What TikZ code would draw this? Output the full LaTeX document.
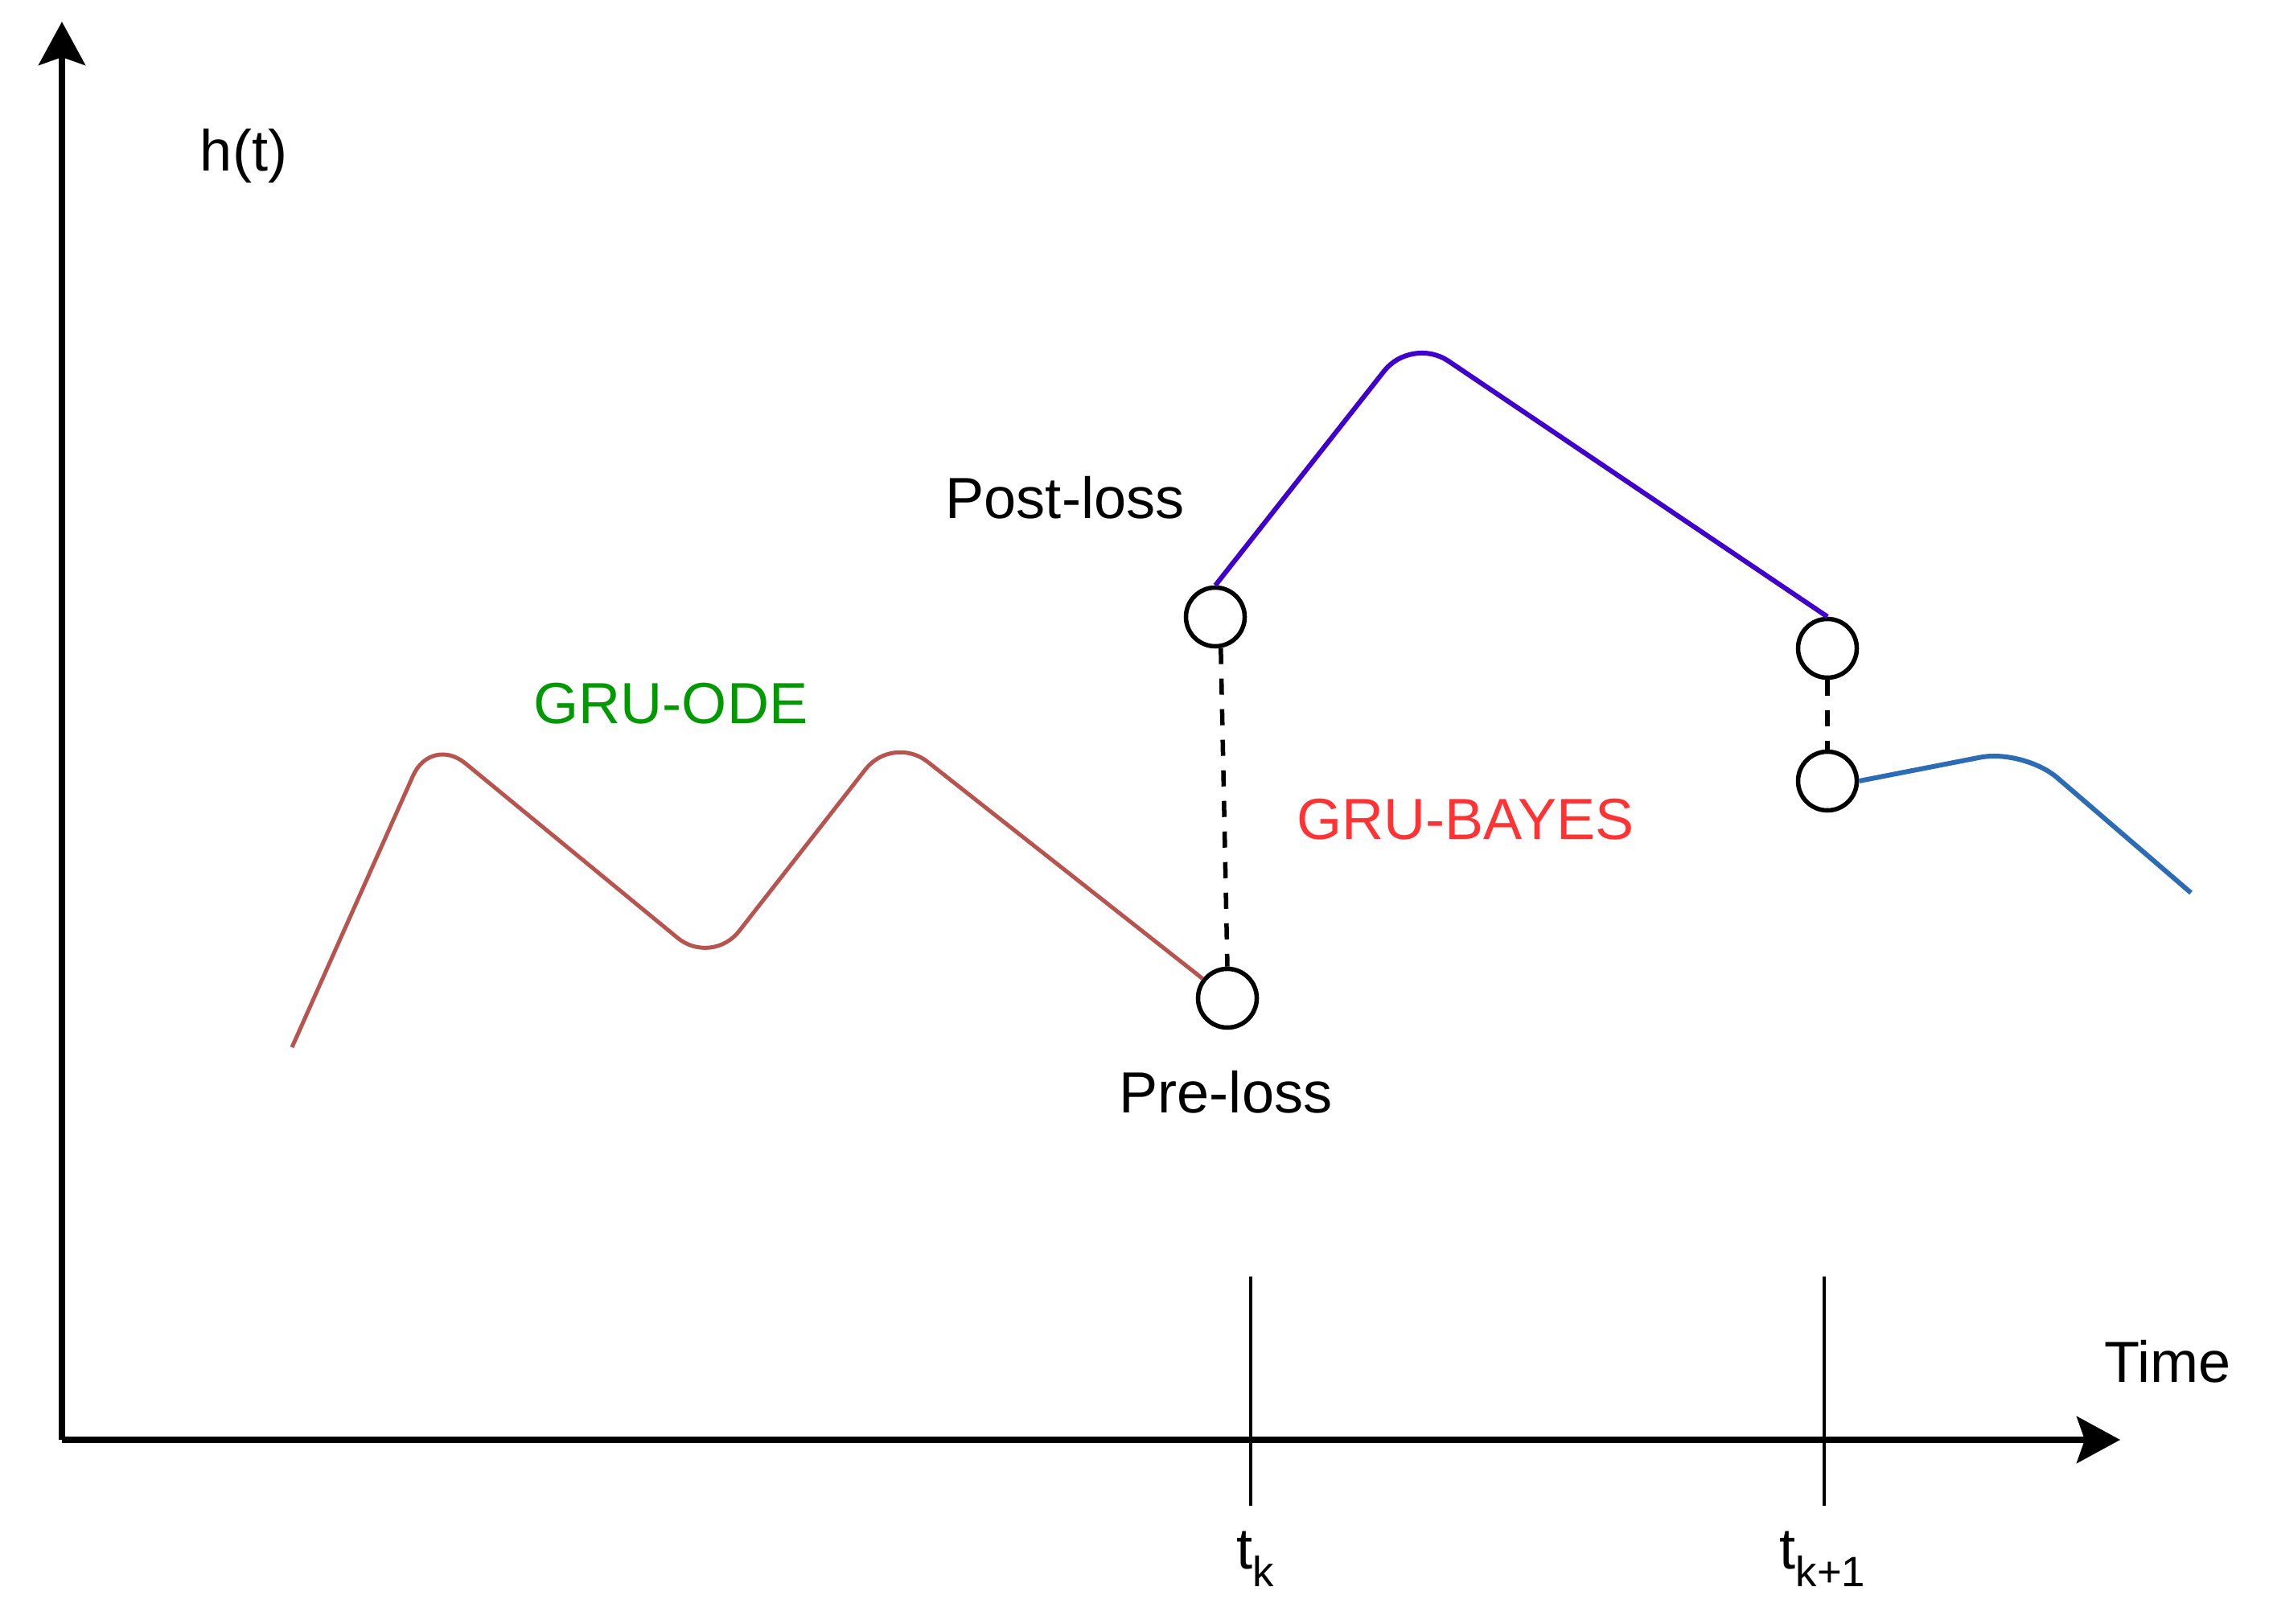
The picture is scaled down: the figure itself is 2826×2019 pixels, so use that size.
\documentclass[tikz,border=0pt]{standalone}
\usepackage{fontspec}
\setmainfont{Liberation Sans}
\usetikzlibrary{arrows.meta}
\definecolor{odered}{RGB}{184,84,80}
\definecolor{postpurple}{RGB}{64,0,204}
\definecolor{nextblue}{RGB}{44,108,180}
\definecolor{odegreen}{RGB}{0,153,0}
\definecolor{bayesred}{RGB}{255,51,51}
\begin{document}
\begin{tikzpicture}[x=0.01cm,y=-0.01cm,
  lbl/.style={anchor=base,inner sep=0pt,font=\fontsize{20.5}{24}\selectfont},
  state/.style={circle,draw=black,line width=0.055cm,minimum size=0.73cm,inner sep=0pt},
  axis/.style={line width=0.07cm,-{Stealth[length=0.54cm,width=0.58cm,inset=0.1cm]}},
  tickline/.style={line width=0.045cm},
  jump/.style={line width=0.055cm,dash pattern=on 0.2cm off 0.18cm},
  traj/.style={line width=0.06cm,rounded corners=0.55cm,line join=round}]
\useasboundingbox (0,0) rectangle (2826,2019);

% axes
\coordinate (O) at (77,1790);
\coordinate (ytip) at (77,27);
\coordinate (xtip) at (2636,1790);
\draw[axis] (O) -- (ytip);
\draw[axis] (O) -- (xtip);

% ticks
\coordinate (tka) at (1555,1587);
\coordinate (tkb) at (1555,1872);
\coordinate (tna) at (2268,1587);
\coordinate (tnb) at (2268,1872);
\draw[tickline] (tka) -- (tkb);
\draw[tickline] (tna) -- (tnb);

% states
\node[state] (A) at (1511,767) {};
\node[state] (B) at (1526,1241) {};
\node[state] (C) at (2272,806) {};
\node[state] (D) at (2272,971) {};

% trajectories
\coordinate (r0) at (363,1302);
\coordinate (r1) at (536,914);
\coordinate (r2) at (885,1201);
\coordinate (r3) at (1110,913);
\draw[traj,odered,line width=0.05cm] (r0) -- (r1) -- (r2) -- (r3) -- (B);

\coordinate (p1) at (1755,418);
\draw[traj,postpurple] (A.north) -- (p1) -- (C.north);

\coordinate (b1) at (2516,931);
\coordinate (bend) at (2724,1110);
\draw[traj,nextblue] (D.east) -- (b1) -- (bend);

% jumps
\draw[jump] (A.-80) -- (B.north);
\draw[jump] (C.south) -- (D.north);

% labels
\node[lbl] (ht) at (303,213) {h(t)};
\node[lbl] (post) at (1324,645) {Post-loss};
\node[lbl,text=odegreen] (ode) at (834,900) {GRU-ODE};
\node[lbl,text=bayesred] (bayes) at (1822,1044) {GRU-BAYES};
\node[lbl] (pre) at (1524,1384) {Pre-loss};
\node[lbl] (time) at (2695,1718) {Time};
\node[lbl] (tkl) at (1561,1950) {t\raisebox{-0.22cm}{\fontsize{15}{15}\selectfont k}};
\node[lbl] (tnl) at (2266,1950) {t\raisebox{-0.22cm}{\fontsize{15}{15}\selectfont k+1}};
\end{tikzpicture}
\end{document}
